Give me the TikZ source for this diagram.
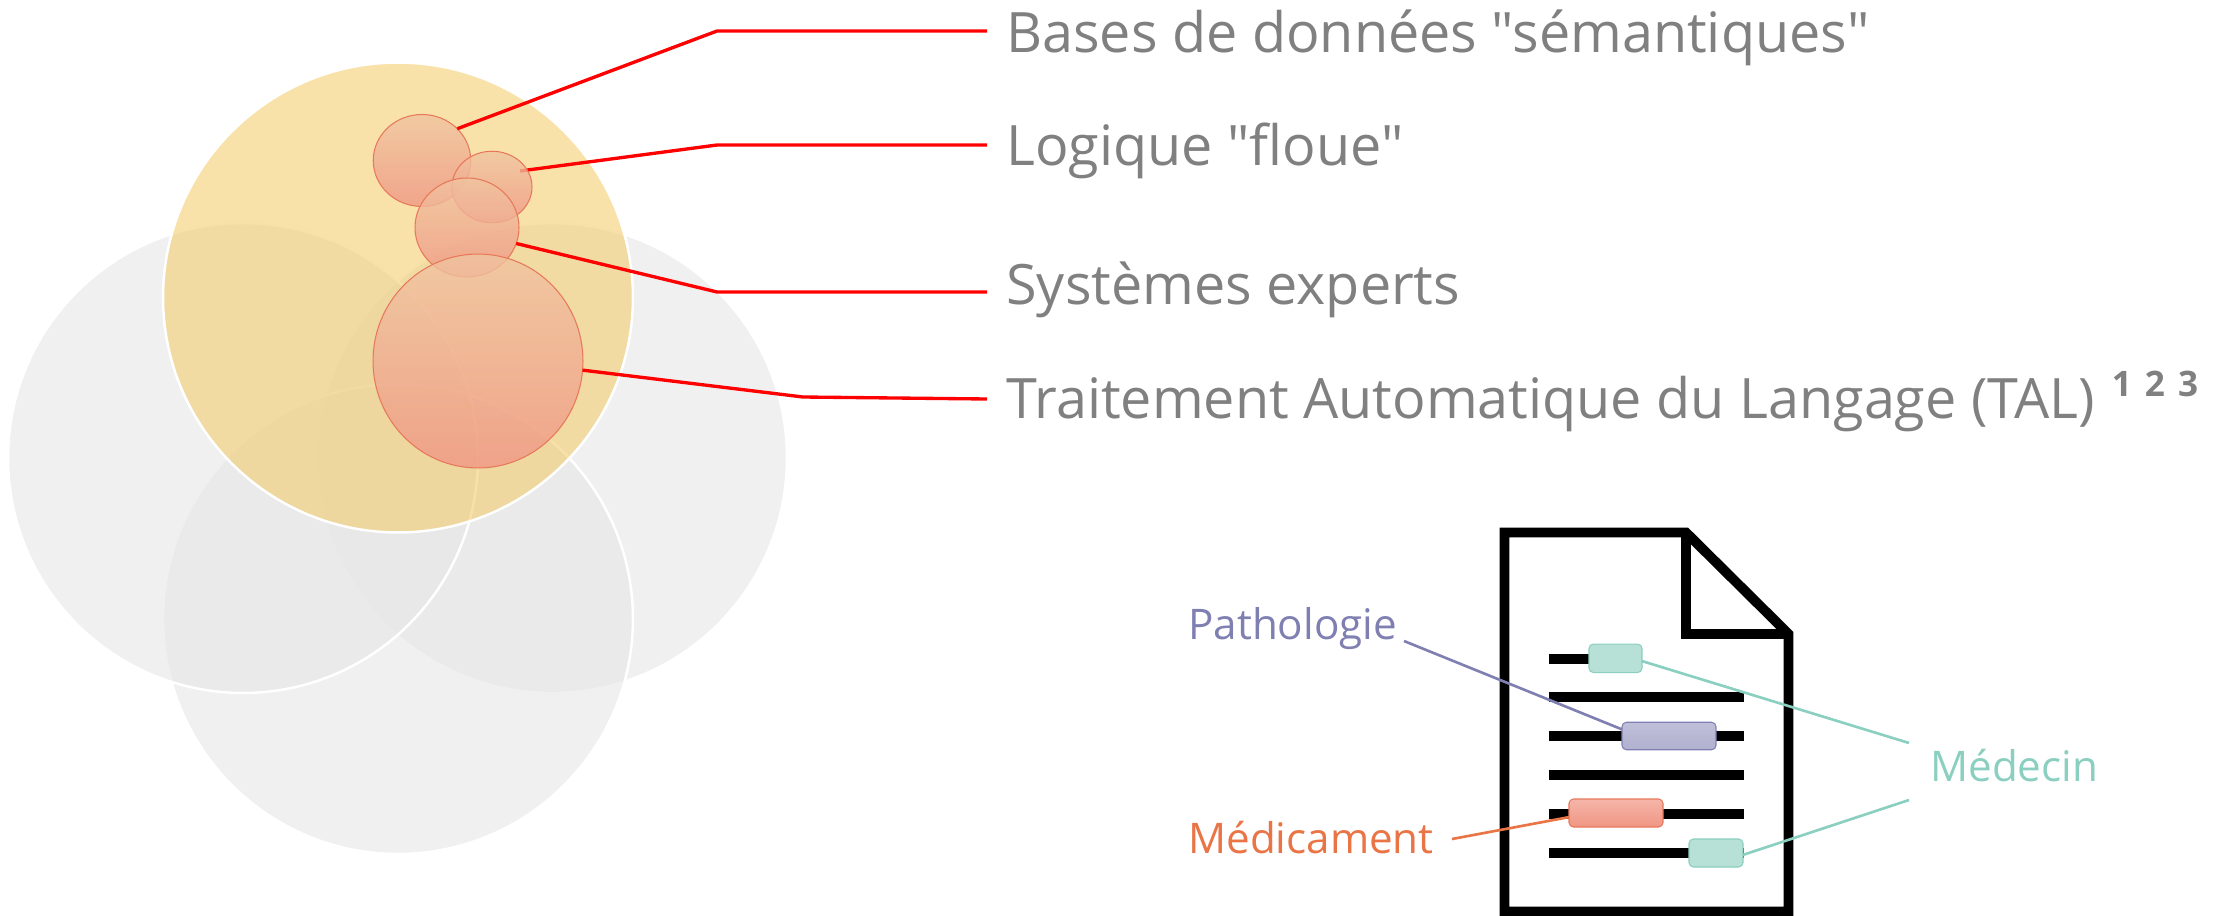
\documentclass[tikz,border=0pt]{standalone}
\usepackage{fontspec}
\setmainfont[Ligatures=TeXOff]{Open Sans}
\usetikzlibrary{shapes.geometric}
\definecolor{halo}{RGB}{242,202,98}
\definecolor{discgrey}{RGB}{230,230,230}
\definecolor{peach}{RGB}{240,196,160}
\definecolor{rosy}{RGB}{240,166,152}
\definecolor{salmon}{RGB}{240,150,132}
\definecolor{salmonline}{RGB}{232,120,90}
\definecolor{tealtext}{RGB}{138,207,191}
\definecolor{tealbox}{RGB}{183,224,214}
\definecolor{mauvetext}{RGB}{127,127,178}
\definecolor{mauvebox}{RGB}{176,176,208}
\definecolor{orangetext}{RGB}{233,117,71}
\tikzset{
	disc/.style={circle,inner sep=0pt,outer sep=0pt,minimum size=9.4cm,draw=white,line width=1.4pt},
	greydisc/.style={disc,fill=discgrey,fill opacity=0.6},
	bubble/.style={ellipse,inner sep=0pt,outer sep=0pt,draw=salmonline,line width=0.6pt,top color=peach,middle color=rosy,bottom color=salmon,fill opacity=0.8},
	topic/.style={anchor=base west,text=black!50,inner xsep=0.38cm,inner ysep=0pt,font=\fontsize{31.7}{36}\selectfont},
	redline/.style={red,line width=1.9pt,line join=round},
	tag/.style={anchor=base west,inner sep=0pt,font=\fontsize{24}{28}\selectfont},
	mark box/.style={rectangle,inner sep=0pt,outer sep=0pt,rounded corners=2.5pt,line width=0.6pt},
	textline/.style={black,line width=5.7pt},
	link/.style={line width=1.5pt}
}
\begin{document}
\begin{tikzpicture}[x=0.02cm,y=-0.02cm]
	\useasboundingbox (0,0) rectangle (2215,916);
	%DISCS
	\node[greydisc] (discRight) at (552,458) {};
	\node[greydisc] (discBottom) at (398,619) {};
	\node[greydisc] (discLeft) at (243,458) {};
	\node[disc,fill=halo,fill opacity=0.55] (discTop) at (398,297.5) {};
	
	%TOPICS
	\node[topic] (lblBases) at (987,52) {Bases de données "sémantiques"};
	\node[topic] (lblLogique) at (987,165) {Logique "floue"};
	\node[topic] (lblSystemes) at (987,304) {Systèmes experts};
	\node[topic] (lblTal) at (987,418) {Traitement Automatique du Langage (TAL)\hspace{0.3em}\raisebox{0.38em}{\fontsize{20}{22}\bfseries\selectfont 1\hspace{0.37em}2\hspace{0.37em}3}};
	%
	\coordinate (kneeBases) at (717,31);
	\coordinate (kneeLogique) at (717,145);
	\coordinate (kneeSystemes) at (717,292);
	\coordinate (kneeTal) at (803,397);
	\coordinate (tipLogique) at (520,171);
	
	%BUBBLES
	\draw[redline] (tipLogique)--(kneeLogique)--(lblLogique.west |- kneeLogique);
	\node[bubble,minimum width=1.95cm,minimum height=1.84cm] (bubBases) at (422,160.5) {};
	\node[bubble,minimum width=1.6cm,minimum height=1.43cm] (bubLogique) at (492,187) {};
	\node[bubble,minimum width=2.08cm,minimum height=1.98cm] (bubSystemes) at (467,227.5) {};
	\node[bubble,minimum width=4.2cm,minimum height=4.28cm] (bubTal) at (478,361) {};
	%
	\draw[redline] (bubBases.42)--(kneeBases)--(lblBases.west |- kneeBases);
	\draw[redline] (bubSystemes.-18)--(kneeSystemes)--(lblSystemes.west |- kneeSystemes);
	\draw[redline] (bubTal.-5)--(kneeTal)--(lblTal.west |- 0,399);
	
	%PAGE
	\draw[black,line width=5.6pt,miter limit=10] (1504.5,911.5)--(1504.5,532.5)--(1686,532.5)--(1788.5,634)--(1788.5,911.5)--cycle;
	\draw[black,line width=5.6pt,miter limit=10] (1686,532.5)--(1686,634)--(1788.5,634);
	%
	\draw[textline] (1548.6,658.7)--(1600,658.7);
	\foreach \rowy in {697.3,736.3,775.3,814.3,853}
		\draw[textline] (1548.6,\rowy)--(1744.4,\rowy);
	%
	\node[mark box,draw=tealtext,fill=tealbox,minimum width=1.06cm,minimum height=0.57cm] (boxDoctorA) at (1615.5,658.3) {};
	\node[mark box,draw=tealtext,fill=tealbox,minimum width=1.08cm,minimum height=0.56cm] (boxDoctorB) at (1716,853) {};
	\node[mark box,draw=mauvetext,top color=mauvebox!80!white,bottom color=mauvebox,minimum width=1.88cm,minimum height=0.55cm] (boxPatho) at (1669,736) {};
	\node[mark box,draw=salmonline,top color=salmon!70!white,bottom color=salmon,minimum width=1.88cm,minimum height=0.56cm] (boxDrug) at (1616,813) {};
	
	%TAGS
	\node[tag,text=mauvetext] (lblPatho) at (1188,639) {Pathologie};
	\node[tag,text=orangetext] (lblDrug) at (1188,853) {Médicament};
	\node[tag,text=tealtext] (lblDoctor) at (1930,781) {Médecin};
	%
	\coordinate (tipPatho) at (1404,641);
	\coordinate (tipDrug) at (1452,839);
	\coordinate (tipDoctorA) at (1909,743);
	\coordinate (tipDoctorB) at (1909,800);
	\draw[link,mauvetext] (tipPatho)--(boxPatho.172);
	\draw[link,orangetext] (tipDrug)--(boxDrug.185);
	\draw[link,tealtext] (tipDoctorA)--(boxDoctorA.354);
	\draw[link,tealtext] (tipDoctorB)--(boxDoctorB.-4);
\end{tikzpicture}
\end{document}
